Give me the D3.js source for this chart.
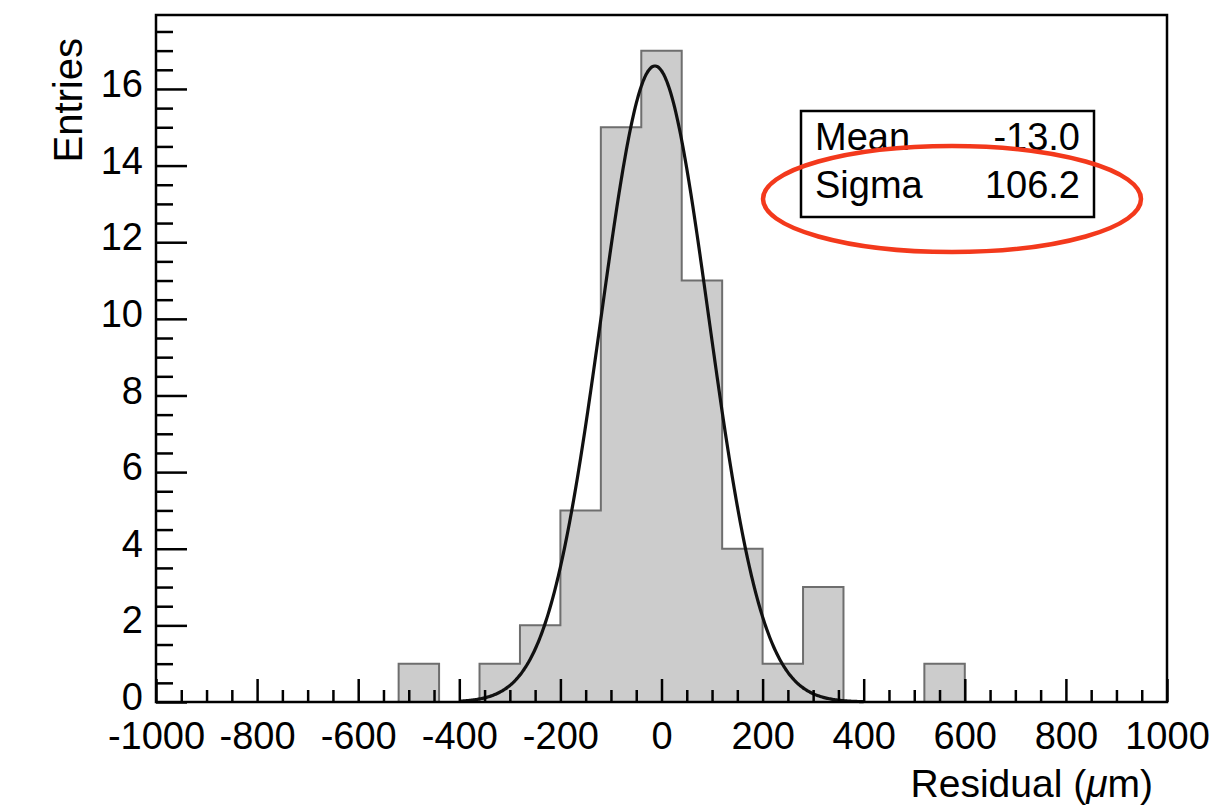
<!DOCTYPE html>
<html>
<head>
<meta charset="utf-8">
<script src="https://cdn.jsdelivr.net/npm/d3@7"></script>
<style>
  body { margin: 0; background: #fff; }
  text { font-family: "Liberation Sans", Arial, Helvetica, sans-serif; fill: #000; }
</style>
</head>
<body>
<svg id="chart" width="1221" height="810"></svg>
<script>
// histogram: 25 bins of 80 um from -1000 to 1000
const binLow = d3.range(25).map(i => -1000 + i * 80);
const counts = [0, 0, 0, 0, 0, 0, 1, 0, 1, 2, 5, 15, 17, 11, 4, 1, 3, 0, 0, 1, 0, 0, 0, 0, 0];
const binWidth = 80;

// gaussian fit parameters (from the stats box)
const fitMean = -13.0;
const fitSigma = 106.2;
const fitAmp = 16.6;
const fitRange = [-400, 400];

const statNames = ["Mean", "Sigma"];
const statValues = ["-13.0", "106.2"];

const xTicks = [-1000, -800, -600, -400, -200, 0, 200, 400, 600, 800, 1000];
const yTicks = [0, 2, 4, 6, 8, 10, 12, 14, 16];

const svg = d3.select("#chart");

const plotLeft = 156, plotRight = 1167, plotTop = 15, plotBottom = 702;

const x = d3.scaleLinear().domain([-1000, 1000]).range([plotLeft, plotRight]);
const y = d3.scaleLinear().domain([0, 17.93]).range([plotBottom, plotTop]);

// histogram as one filled step path
const bars = binLow.map((lo, i) => ({ lo: lo, hi: lo + binWidth, n: counts[i] }));
const stepPts = [];
bars.forEach(d => {
  stepPts.push([d.lo, d.n]);
  stepPts.push([d.hi, d.n]);
});

svg.append("path")
  .attr("d", d3.area().x(d => x(d[0])).y0(y(0)).y1(d => y(d[1]))(stepPts))
  .attr("fill", "#cccccc");

svg.append("path")
  .attr("d", d3.line().x(d => x(d[0])).y(d => y(d[1]))(stepPts))
  .attr("fill", "none")
  .attr("stroke", "#6e6e6e")
  .attr("stroke-width", 2);

// gaussian fit
const gaus = v => fitAmp * Math.exp(-0.5 * Math.pow((v - fitMean) / fitSigma, 2));
const fitPts = d3.range(fitRange[0], fitRange[1] + 1, 2).map(v => [v, gaus(v)]);

svg.append("path")
  .attr("d", d3.line().x(d => x(d[0])).y(d => y(d[1])).curve(d3.curveBasis)(fitPts))
  .attr("fill", "none")
  .attr("stroke", "#111")
  .attr("stroke-width", 3.2);

// axes
const plain = d => String(d);
const xMajor = d3.axisBottom(x).tickValues(xTicks).tickFormat(plain)
  .tickSizeInner(-23).tickSizeOuter(0).tickPadding(20);
const xMinor = d3.axisBottom(x).tickValues(d3.range(-1000, 1001, 50).filter(v => v % 200 !== 0))
  .tickFormat("").tickSizeInner(-12).tickSizeOuter(0);

const yMajor = d3.axisLeft(y).tickValues(yTicks).tickFormat(plain)
  .tickSizeInner(-31).tickSizeOuter(0).tickPadding(13);
const yMinor = d3.axisLeft(y).tickValues(d3.range(0, 17.9, 0.5).filter(v => v % 2 !== 0))
  .tickFormat("").tickSizeInner(-17).tickSizeOuter(0);

function styleAxis(g) {
  g.select(".domain").remove();
  g.selectAll("line").attr("stroke", "#000").attr("stroke-width", 2.5);
  g.selectAll("text").attr("font-size", 38).attr("fill", "#000")
    .attr("font-family", "'Liberation Sans', Arial, Helvetica, sans-serif");
}

svg.append("g").attr("transform", `translate(0,${plotBottom})`).call(xMinor).call(styleAxis);
svg.append("g").attr("transform", `translate(0,${plotBottom})`).call(xMajor).call(styleAxis);
svg.append("g").attr("transform", `translate(${plotLeft},0)`).call(yMinor).call(styleAxis);
svg.append("g").attr("transform", `translate(${plotLeft},0)`).call(yMajor).call(styleAxis)
  .selectAll("text").attr("dy", "0.2em");

// frame
svg.append("rect")
  .attr("x", plotLeft)
  .attr("y", plotTop)
  .attr("width", plotRight - plotLeft)
  .attr("height", plotBottom - plotTop)
  .attr("fill", "none")
  .attr("stroke", "#000")
  .attr("stroke-width", 2.5);

// axis titles
svg.append("text")
  .attr("transform", "translate(82,38) rotate(-90)")
  .attr("text-anchor", "end")
  .attr("font-size", 40)
  .text("Entries");

const xTitle = svg.append("text")
  .attr("x", 1153)
  .attr("y", 797)
  .attr("text-anchor", "end")
  .attr("font-size", 39);
xTitle.append("tspan").text("Residual (");
xTitle.append("tspan").attr("font-style", "italic").text("\u03bc");
xTitle.append("tspan").text("m)");

// stats box
svg.append("rect")
  .attr("x", 801)
  .attr("y", 111)
  .attr("width", 293)
  .attr("height", 106)
  .attr("fill", "#fff")
  .attr("stroke", "#000")
  .attr("stroke-width", 2.5);

const stats = svg.append("g");
stats.selectAll("text.name")
  .data(statNames)
  .join("text")
  .attr("class", "name")
  .attr("x", 815)
  .attr("y", (d, i) => 150 + i * 48)
  .attr("font-size", 38)
  .text(d => d);
stats.selectAll("text.val")
  .data(statValues)
  .join("text")
  .attr("class", "val")
  .attr("x", 1080)
  .attr("y", (d, i) => 150 + i * 48)
  .attr("text-anchor", "end")
  .attr("font-size", 38)
  .text(d => d);

// red annotation ellipse
svg.append("ellipse")
  .attr("cx", 952)
  .attr("cy", 199)
  .attr("rx", 189)
  .attr("ry", 53)
  .attr("fill", "none")
  .attr("stroke", "#f3391c")
  .attr("stroke-width", 4.5);
</script>
</body>
</html>
